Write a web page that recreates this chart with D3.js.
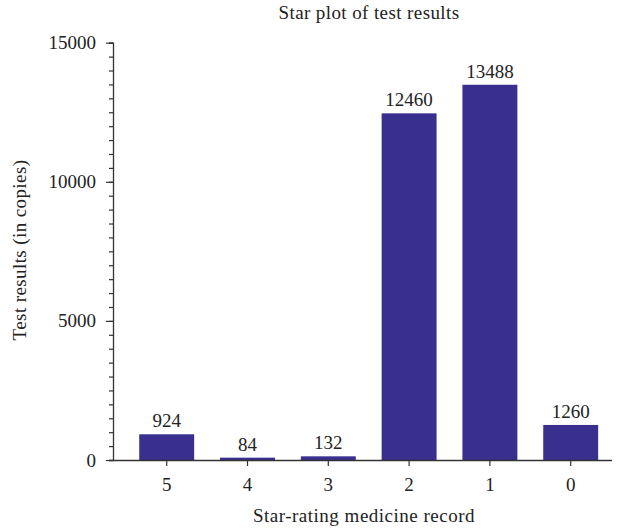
<!DOCTYPE html>
<html>
<head>
<meta charset="utf-8">
<script src="https://cdn.jsdelivr.net/npm/d3@7"></script>
<style>
  body { margin: 0; background: #fff; }
  text { font-family: "Liberation Serif", "Times New Roman", serif; fill: #222; }
</style>
</head>
<body>
<svg id="chart" width="618" height="530"></svg>
<script>
// star ratings on the x axis and the counted copies for each
const ratings = ['5', '4', '3', '2', '1', '0'];
const copies = [924, 84, 132, 12460, 13488, 1260];
const yTicks = [0, 5000, 10000, 15000];

const svg = d3.select('#chart');
const fontSize = 19;

const x = d3.scaleBand()
  .domain(ratings)
  .range([126.3, 611.1])
  .paddingInner(0.32)
  .paddingOuter(0.16);

const y = d3.scaleLinear()
  .domain([0, 15000])
  .range([460, 42.7]);

const axisLeft = 113;

// bars
svg.append('g')
  .selectAll('rect')
  .data(ratings)
  .join('rect')
  .attr('x', (d) => x(d))
  .attr('y', (d, i) => y(copies[i]))
  .attr('width', x.bandwidth())
  .attr('height', (d, i) => y(0) - y(copies[i]))
  .attr('fill', '#392f8f');

// value labels
svg.append('g')
  .selectAll('text')
  .data(ratings)
  .join('text')
  .attr('x', (d) => x(d) + x.bandwidth() / 2)
  .attr('y', (d, i) => y(copies[i]) - 7)
  .attr('text-anchor', 'middle')
  .style('font-size', `${fontSize}px`)
  .text((d, i) => copies[i]);

// y axis: minor ticks every 500
const yAxis = svg.append('g').attr('transform', `translate(${axisLeft},0)`);
yAxis.call(d3.axisLeft(y).tickValues(d3.range(0, 15001, 500)).tickSize(4).tickFormat(''));
const yMajor = svg.append('g').attr('transform', `translate(${axisLeft},0)`);
yMajor.call(d3.axisLeft(y).tickValues(yTicks).tickSize(7).tickPadding(10).tickFormat(d3.format('d')));
yMajor.selectAll('.domain').remove();
yMajor.selectAll('text')
  .style('font-size', `${fontSize}px`)
  .style('font-family', '"Liberation Serif", serif')
  .attr('fill', '#222');
svg.selectAll('.domain').attr('stroke', '#333').attr('stroke-width', 1.3);
svg.selectAll('.tick line').attr('stroke', '#333').attr('stroke-width', 1.2);

// x axis
const xAxis = svg.append('g').attr('transform', `translate(0,${y(0)})`);
xAxis.call(d3.axisBottom(x).tickSize(6).tickPadding(12).tickSizeOuter(0));
xAxis.select('.domain')
  .attr('d', `M${axisLeft},0.5H612`)
  .attr('stroke', '#333')
  .attr('stroke-width', 1.3);
xAxis.selectAll('.tick line').attr('stroke', '#333').attr('stroke-width', 1.2);
xAxis.selectAll('text')
  .style('font-size', `${fontSize}px`)
  .style('font-family', '"Liberation Serif", serif')
  .attr('fill', '#222');

// titles
svg.append('text')
  .attr('x', 369)
  .attr('y', 19)
  .attr('text-anchor', 'middle')
  .style('font-size', `${fontSize}px`)
  .style('letter-spacing', '0.4px')
  .text('Star plot of test results');

svg.append('text')
  .attr('x', 364)
  .attr('y', 522)
  .attr('text-anchor', 'middle')
  .style('font-size', `${fontSize}px`)
  .style('letter-spacing', '0.5px')
  .text('Star-rating medicine record');

svg.append('text')
  .attr('transform', 'translate(26,250) rotate(-90)')
  .attr('text-anchor', 'middle')
  .style('font-size', `${fontSize}px`)
  .style('letter-spacing', '0.4px')
  .text('Test results (in copies)');
</script>
</body>
</html>
